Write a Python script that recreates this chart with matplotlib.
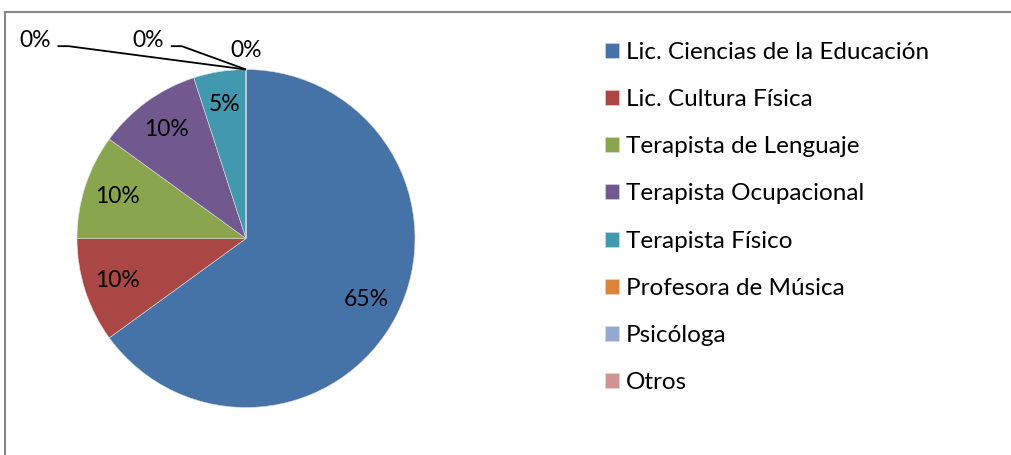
import matplotlib.pyplot as plt
import numpy as np

# Data
categories = ['Lic. Ciencias de la Educación', 'Lic. Cultura Física',
              'Terapista de Lenguaje', 'Terapista Ocupacional',
              'Terapista Físico', 'Profesora de Música', 'Psicóloga', 'Otros']
values = [65, 10, 10, 10, 5, 0, 0, 0]
colors = ['#4572A7', '#AA4643', '#89A54E', '#71588F',
          '#4198AF', '#DB843D', '#93A9CF', '#D19392']

plt.rcParams['font.family'] = ['Lato', 'DejaVu Sans']

W, H = 1011, 455
fig = plt.figure(figsize=(W / 100, H / 100), dpi=100)

# pie centre (px) and radius (px)
cx, cy, rad = 246, H - 238.5, 169
xl, yl = 1.4, 1.3
ax = fig.add_axes([(cx - xl * rad) / W, (cy - yl * rad) / H,
                   2 * xl * rad / W, 2 * yl * rad / H])

wedges, _ = ax.pie(values, colors=colors, startangle=90, counterclock=False,
                   radius=1, wedgeprops=dict(linewidth=0.4, edgecolor='#dddddd'))
ax.set_xlim(-xl, xl)
ax.set_ylim(-yl, yl)
ax.set_aspect('auto')
ax.axis('off')

# percentage labels
zero_offsets = [(-1.25, 1.17), (-0.58, 1.17), (0.0, 1.11)]
zi = 0
for w, v in zip(wedges, values):
    mid = np.deg2rad((w.theta1 + w.theta2) / 2)
    txt = f'{v}%'
    if v > 0:
        r = 0.8
        ax.text(r * np.cos(mid), r * np.sin(mid), txt, ha='center', va='center',
                fontsize=16.5)
    else:
        tx, ty = zero_offsets[zi]
        ax.text(tx, ty, txt, ha='center', va='center', fontsize=16.5)
        if zi < 2:
            # leader line: short horizontal run, then to the wedge edge
            x0, y0 = tx + 0.135, ty - 0.032
            ax.plot([x0, x0 + 0.065, np.cos(mid)], [y0, y0, np.sin(mid)],
                    color='black', lw=1.3, clip_on=False,
                    solid_capstyle='butt')
        zi += 1

# legend
leg = fig.legend(wedges, categories, loc='upper left',
                 bbox_to_anchor=(595 / W, 1 - 32 / H), frameon=False,
                 fontsize=17.5, handlelength=0.58, handleheight=0.58,
                 handletextpad=0.3, labelspacing=1.08, borderaxespad=0)

# chart border
fig.add_artist(plt.Line2D([4.5 / W, 1.0], [1 - 11.5 / H, 1 - 11.5 / H],
                          color='#888888', lw=1.5, transform=fig.transFigure))
fig.add_artist(plt.Line2D([4.5 / W, 4.5 / W], [0, 1 - 11.5 / H],
                          color='#888888', lw=1.5, transform=fig.transFigure))

fig.savefig('out.png', dpi=100)
